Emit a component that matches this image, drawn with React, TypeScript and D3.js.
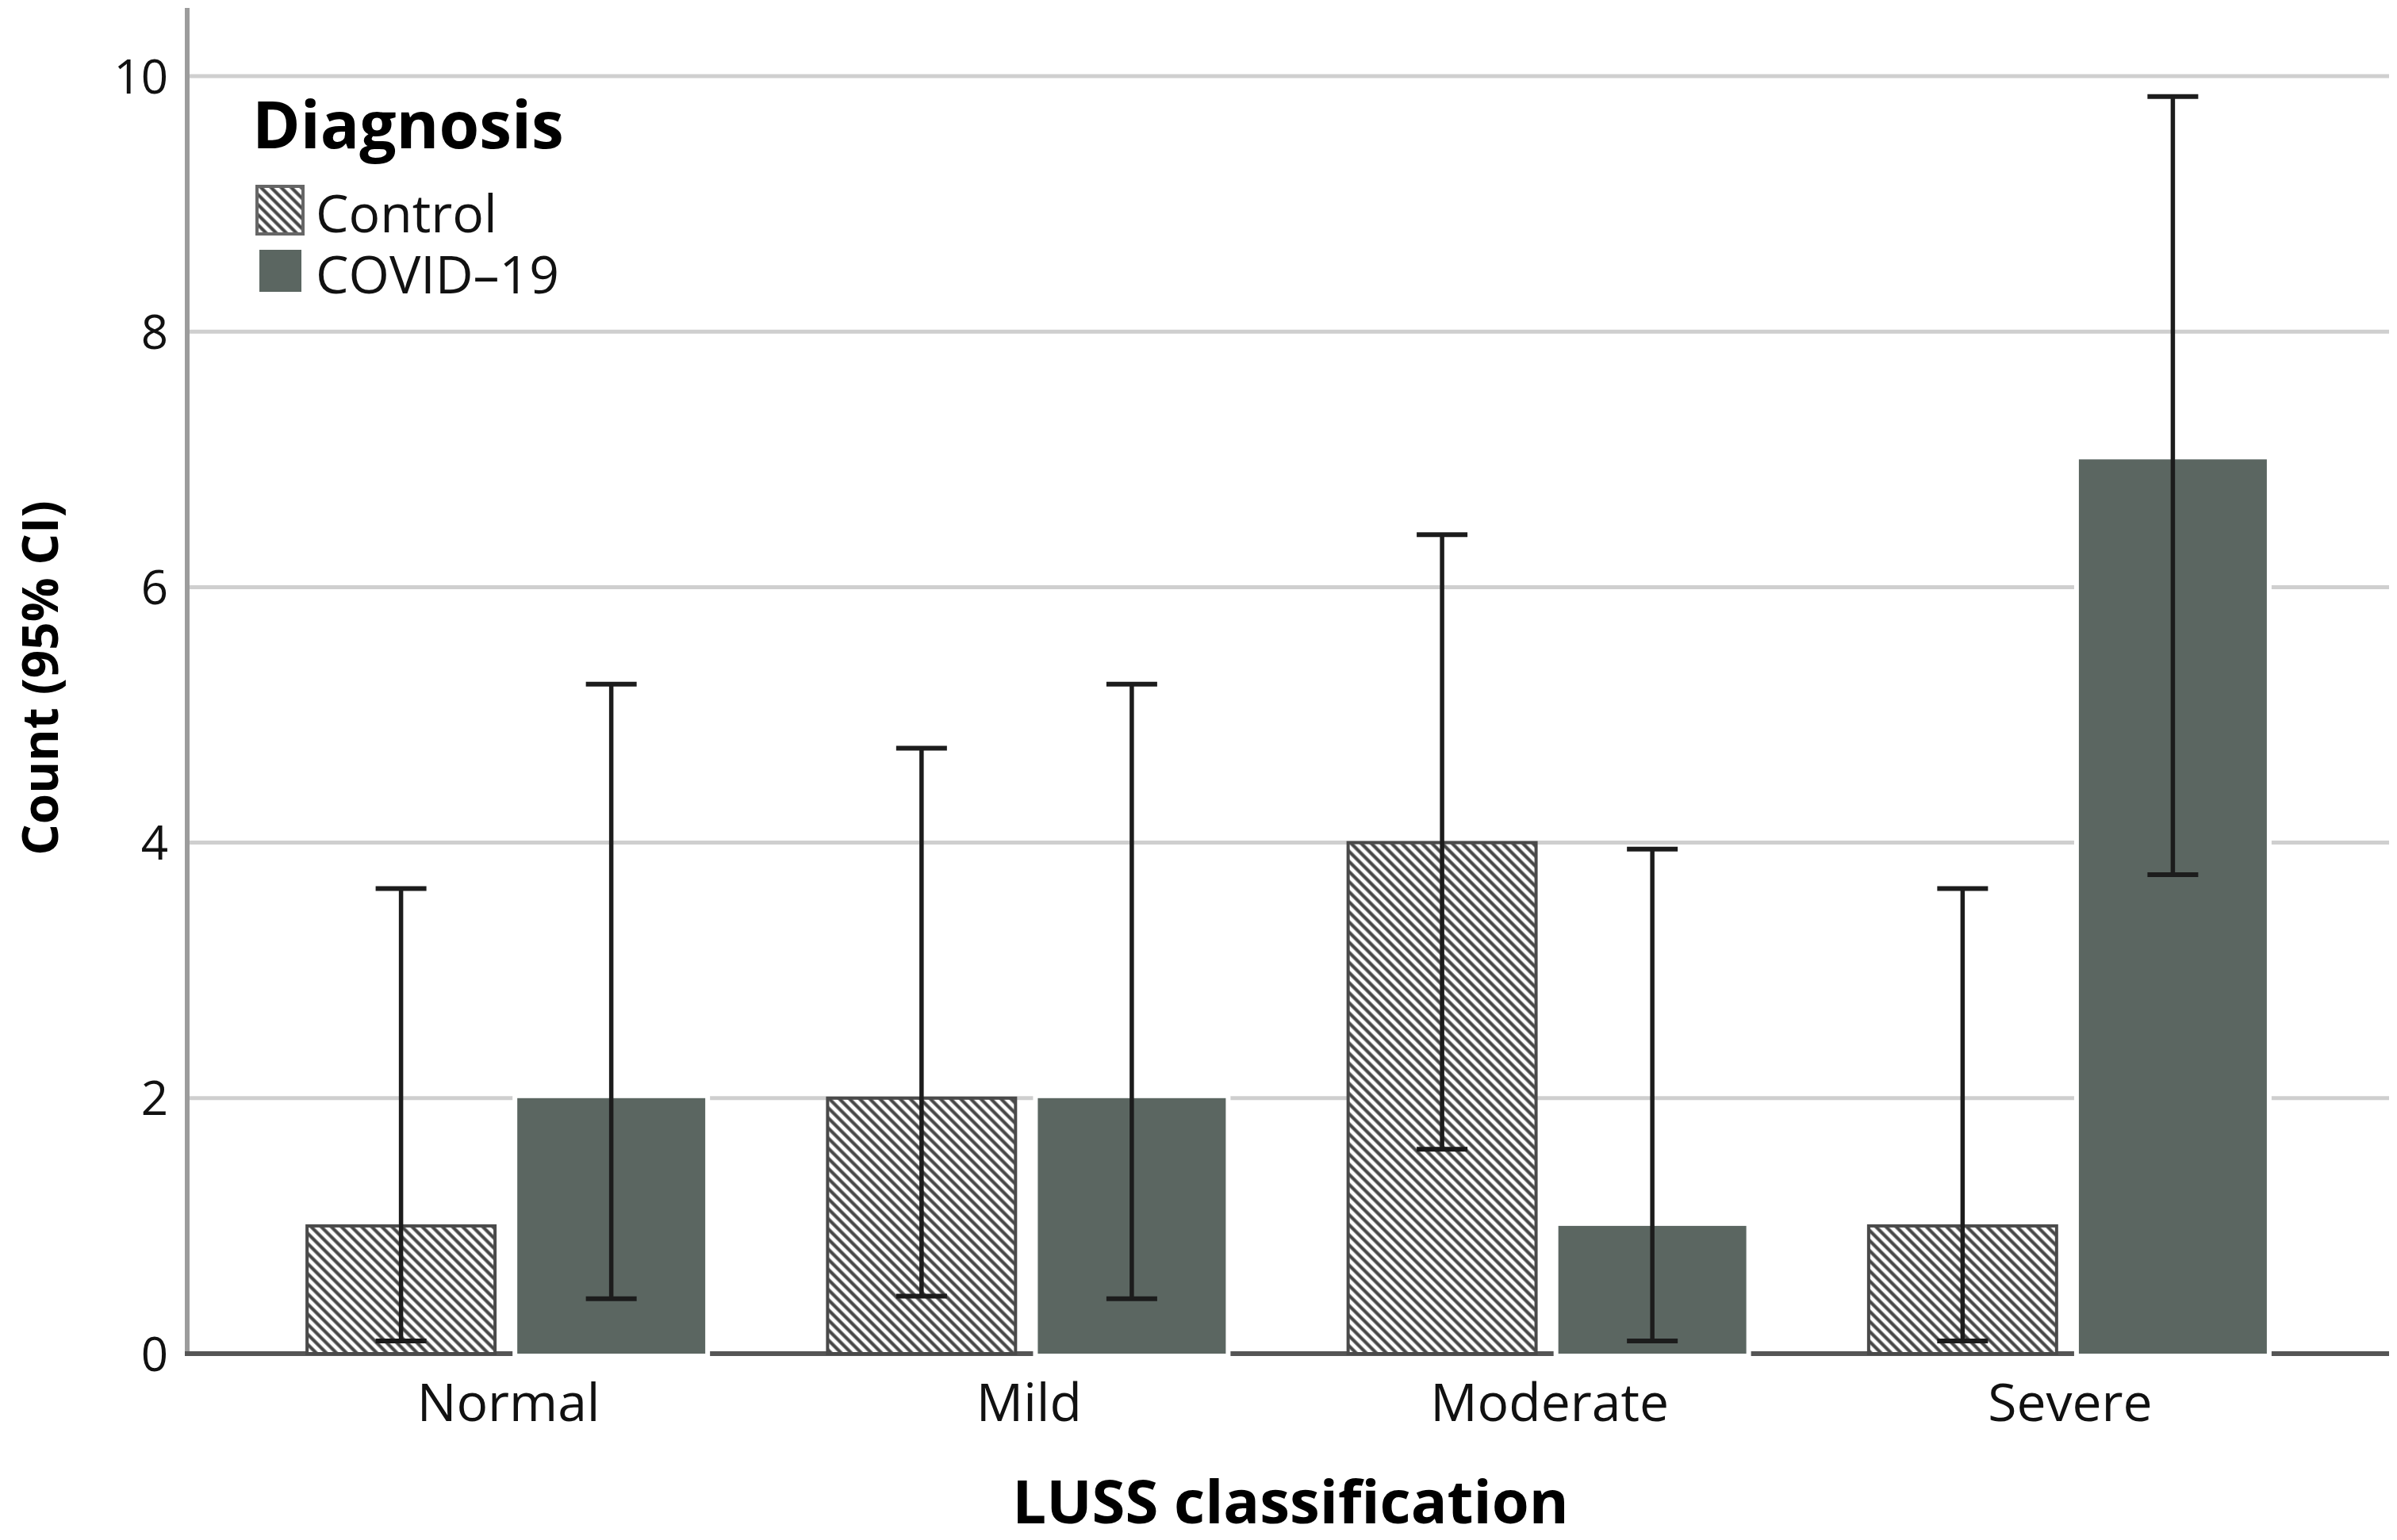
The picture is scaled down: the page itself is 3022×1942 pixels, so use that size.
import * as d3 from "d3";
import React, {useEffect, useRef} from "react";

const categories = ['Normal', 'Mild', 'Moderate', 'Severe'];
const groups = ['Control', 'COVID-19'];
const controlCounts = [1, 2, 4, 1];
const covidCounts = [2, 2, 1, 7];
const controlLower = [0.1, 0.45, 1.6, 0.1];
const controlUpper = [3.64, 4.74, 6.41, 3.64];
const covidLower = [0.43, 0.43, 0.1, 3.75];
const covidUpper = [5.24, 5.24, 3.95, 9.84];
const yTicks = [0, 2, 4, 6, 8, 10];

const FONT = "'Open Sans', 'Noto Sans', sans-serif";
const COVID_FILL = '#5b6661';
const HATCH = '#474747';

interface BarDatum {
  category: string
  group: string
  value: number
  lower: number
  upper: number
}

const App: React.FC = () => {
  const ref = useRef<SVGSVGElement | null>(null);

  useEffect(() => {
    const width = 3022;
    const height = 1942;
    const svg = d3.select(ref.current);
    svg.selectAll('*').remove();
    svg.attr('width', width).attr('height', height);

    const data: BarDatum[] = [];
    categories.forEach((c, i) => {
      data.push({category: c, group: groups[0], value: controlCounts[i], lower: controlLower[i], upper: controlUpper[i]});
      data.push({category: c, group: groups[1], value: covidCounts[i], lower: covidLower[i], upper: covidUpper[i]});
    });

    // plot frame
    const axisLeft = 236;
    const axisRight = 3012;

    const xScale = d3.scaleBand()
      .domain(categories)
      .range([310, 2935])
      .padding(0);

    const xInner = d3.scaleBand()
      .domain(groups)
      .range([-251, 251])
      .paddingInner(0.106)
      .paddingOuter(0);

    const yScale = d3.scaleLinear()
      .domain([0, 10])
      .range([1707, 96]);

    // hatch pattern for the control bars
    const defs = svg.append('defs');
    const pattern = defs.append('pattern')
      .attr('id', 'hatch')
      .attr('patternUnits', 'userSpaceOnUse')
      .attr('width', 9)
      .attr('height', 9)
      .attr('patternTransform', 'rotate(-45)');
    pattern.append('rect')
      .attr('width', 9)
      .attr('height', 9)
      .attr('fill', '#fff');
    pattern.append('line')
      .attr('x1', 2.5).attr('x2', 2.5)
      .attr('y1', 0).attr('y2', 9)
      .attr('stroke', HATCH)
      .attr('stroke-width', 4.2);

    svg.append('rect')
      .attr('width', width)
      .attr('height', height)
      .attr('fill', '#fff');

    // gridlines
    svg.append('g')
      .selectAll('line')
      .data(yTicks.filter((t) => t !== 0))
      .enter()
      .append('line')
      .attr('x1', axisLeft)
      .attr('x2', axisRight)
      .attr('y1', (d) => yScale(d))
      .attr('y2', (d) => yScale(d))
      .attr('stroke', '#cfcfcf')
      .attr('stroke-width', 5);

    // y axis line
    svg.append('line')
      .attr('x1', axisLeft)
      .attr('x2', axisLeft)
      .attr('y1', 10)
      .attr('y2', yScale(0))
      .attr('stroke', '#9c9c9c')
      .attr('stroke-width', 6);

    // baseline
    svg.append('line')
      .attr('x1', axisLeft - 3)
      .attr('x2', axisRight)
      .attr('y1', yScale(0))
      .attr('y2', yScale(0))
      .attr('stroke', '#555')
      .attr('stroke-width', 6);

    // y tick labels
    svg.append('g')
      .selectAll('text')
      .data(yTicks)
      .enter()
      .append('text')
      .attr('x', 212)
      .attr('y', (d) => yScale(d))
      .attr('dy', '0.36em')
      .attr('text-anchor', 'end')
      .style('font-family', FONT)
      .style('font-size', '60px')
      .attr('fill', '#111')
      .text((d) => d);

    const barX = (d: BarDatum) => (xScale(d.category) || 0) + xScale.bandwidth() / 2 + (xInner(d.group) || 0);
    const bw = xInner.bandwidth();

    const bars = svg.append('g')
      .selectAll('.bar-group')
      .data(data)
      .enter()
      .append('g')
      .attr('class', 'bar-group');

    // white halo around the filled bars
    bars.filter((d) => d.group === groups[1])
      .append('rect')
      .attr('x', (d) => barX(d) - 6)
      .attr('y', (d) => yScale(d.value) - 6)
      .attr('width', bw + 12)
      .attr('height', (d) => yScale(0) - yScale(d.value) + 9)
      .attr('fill', '#fff');

    bars.append('rect')
      .attr('x', (d) => barX(d))
      .attr('y', (d) => yScale(d.value))
      .attr('width', bw)
      .attr('height', (d) => yScale(0) - yScale(d.value))
      .attr('fill', (d) => d.group === groups[0] ? 'url(#hatch)' : COVID_FILL)
      .attr('stroke', (d) => d.group === groups[0] ? '#4a4a4a' : 'none')
      .attr('stroke-width', 4);

    // error bars
    const capHalf = 32;
    bars.append('line')
      .attr('x1', (d) => barX(d) + bw / 2)
      .attr('x2', (d) => barX(d) + bw / 2)
      .attr('y1', (d) => yScale(d.lower))
      .attr('y2', (d) => yScale(d.upper))
      .attr('stroke', '#1c1c1c')
      .attr('stroke-width', 5.5);
    bars.append('line')
      .attr('x1', (d) => barX(d) + bw / 2 - capHalf)
      .attr('x2', (d) => barX(d) + bw / 2 + capHalf)
      .attr('y1', (d) => yScale(d.upper))
      .attr('y2', (d) => yScale(d.upper))
      .attr('stroke', '#1c1c1c')
      .attr('stroke-width', 6);
    bars.append('line')
      .attr('x1', (d) => barX(d) + bw / 2 - capHalf)
      .attr('x2', (d) => barX(d) + bw / 2 + capHalf)
      .attr('y1', (d) => yScale(d.lower))
      .attr('y2', (d) => yScale(d.lower))
      .attr('stroke', '#1c1c1c')
      .attr('stroke-width', 6);

    // category labels
    svg.append('g')
      .selectAll('text')
      .data(categories)
      .enter()
      .append('text')
      .attr('x', (d) => (xScale(d) || 0) + xScale.bandwidth() / 2 + 3)
      .attr('y', 1792)
      .attr('text-anchor', 'middle')
      .style('font-family', FONT)
      .style('font-size', '66px')
      .attr('fill', '#111')
      .text((d) => d);

    // axis titles
    svg.append('text')
      .attr('x', 1627)
      .attr('y', 1921)
      .attr('text-anchor', 'middle')
      .style('font-family', FONT)
      .style('font-size', '76px')
      .style('font-weight', '700')
      .attr('fill', '#000')
      .text('LUSS classification');

    svg.append('g')
      .attr('transform', 'translate(' + 73 + ', ' + 855 + ')')
      .append('text')
      .attr('text-anchor', 'middle')
      .attr('transform', 'rotate(-90)')
      .style('font-family', FONT)
      .style('font-size', '62px')
      .style('font-weight', '700')
      .attr('fill', '#000')
      .text('Count (95% CI)');

    // legend
    const legend = svg.append('g');
    legend.append('text')
      .attr('x', 318)
      .attr('y', 187)
      .style('font-family', FONT)
      .style('font-size', '82px')
      .style('font-weight', '700')
      .attr('fill', '#000')
      .text('Diagnosis');

    legend.append('rect')
      .attr('x', 324)
      .attr('y', 235)
      .attr('width', 58)
      .attr('height', 60)
      .attr('fill', 'url(#hatch)')
      .attr('stroke', '#666')
      .attr('stroke-width', 4);
    legend.append('rect')
      .attr('x', 327)
      .attr('y', 315)
      .attr('width', 53)
      .attr('height', 53)
      .attr('fill', COVID_FILL);

    legend.selectAll('.legend-label')
      .data(groups)
      .enter()
      .append('text')
      .attr('class', 'legend-label')
      .attr('x', 398)
      .attr('y', (d, i) => 293 + i * 77)
      .style('font-family', FONT)
      .style('font-size', '66px')
      .attr('fill', '#111')
      .text((d) => d === 'COVID-19' ? 'COVID\u201319' : d);

    return () => {
      svg.selectAll('*').remove();
    };
  }, []);

  return (
    <div style={{position: 'absolute', left: 0, top: 0}}>
      <svg ref={ref} style={{display: 'block'}}/>
    </div>
  );
};

export default App;
